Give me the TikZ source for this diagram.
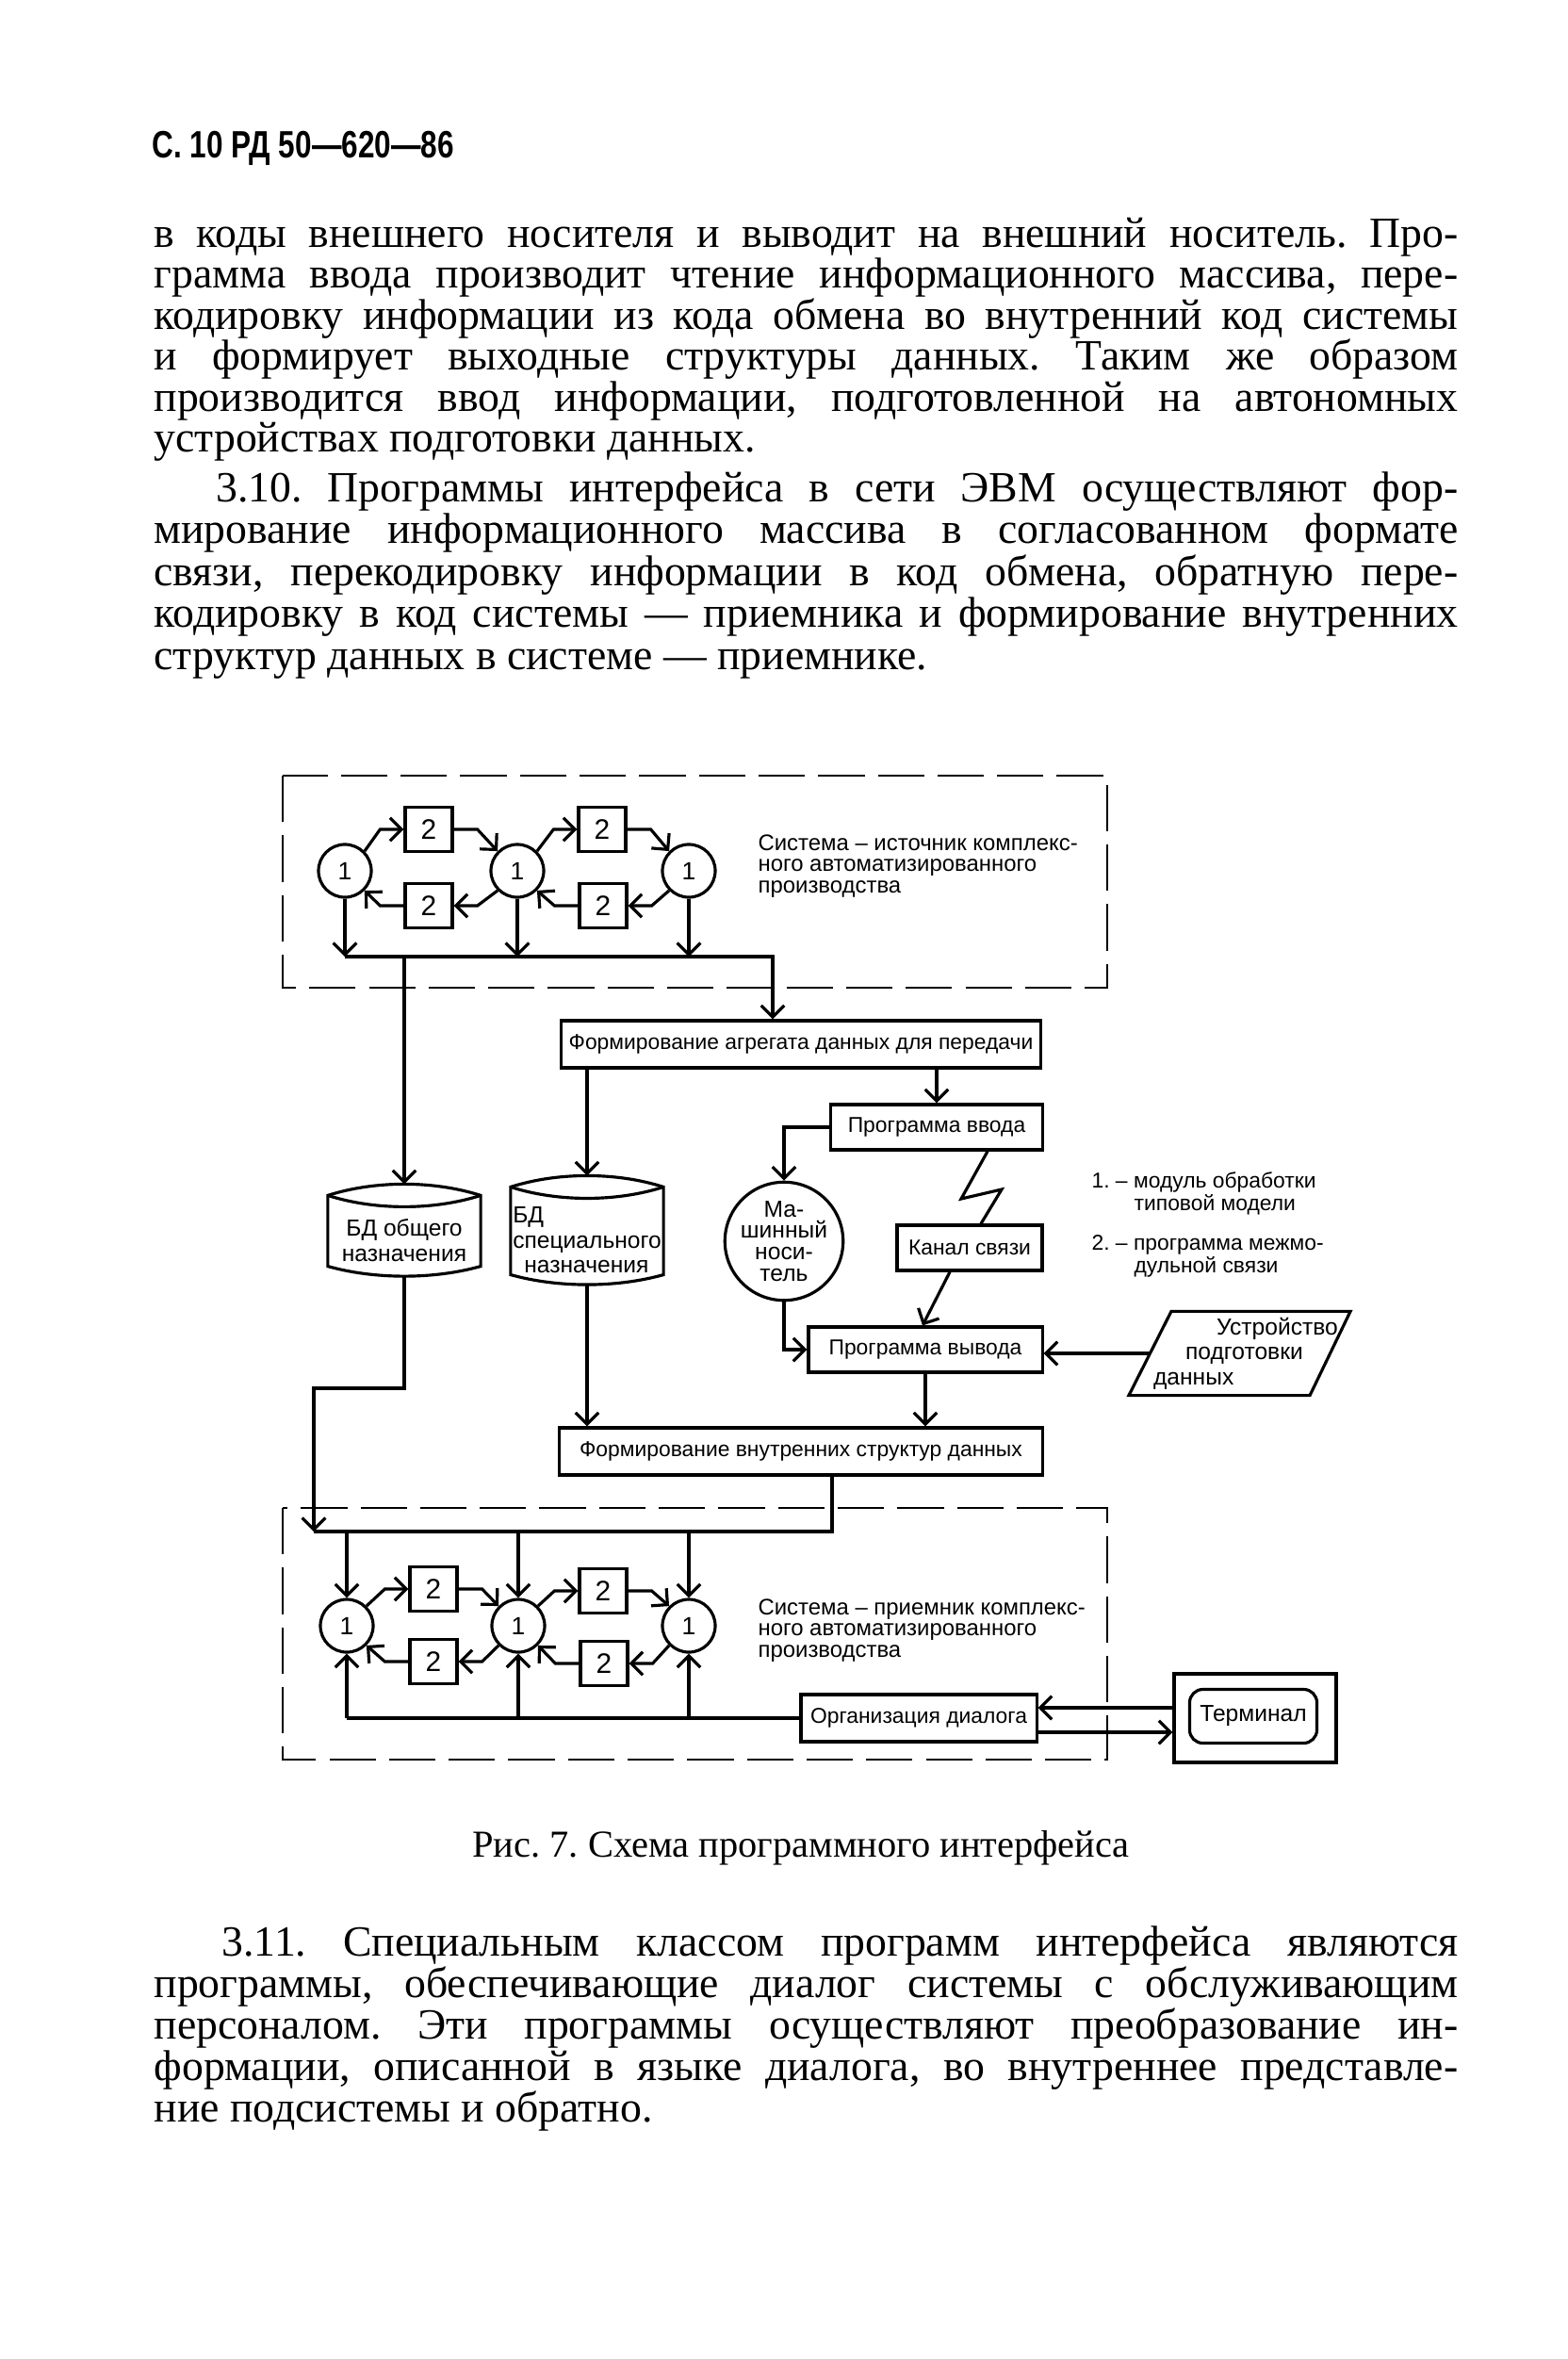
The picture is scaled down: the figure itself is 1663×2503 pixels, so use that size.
\documentclass[tikz,border=0pt]{standalone}
\usepackage{fontspec}
\setmainfont{Liberation Serif}
\setsansfont{Liberation Sans}
\usepackage{graphicx}
\usetikzlibrary{arrows.meta, shapes.geometric, positioning}

\newcommand{\fullline}[1]{\makebox[13.83cm][s]{#1}}

\begin{document}
\frenchspacing
\begin{tikzpicture}[
    x=0.01cm, y=-0.01cm,
    line width=0.9pt,
    txt/.style={anchor=base west, inner sep=0pt, font=\fontsize{13}{15}\selectfont},
    blk/.style={draw, rectangle, inner sep=1pt, font=\sffamily\fontsize{6.5}{7.5}\selectfont},
    modul/.style={draw, circle, minimum size=0.56cm, inner sep=0pt, font=\sffamily\fontsize{7.5}{8}\selectfont},
    mlink/.style={draw, rectangle, minimum width=0.5cm, minimum height=0.47cm, inner sep=0pt, font=\sffamily\fontsize{8.5}{9}\selectfont},
    dbtext/.style={minimum width=1.59cm, minimum height=0.52cm, inner sep=0pt, font=\sffamily\fontsize{7}{7.5}\selectfont},
    lbl/.style={anchor=west, inner sep=0pt, align=left, font=\sffamily\fontsize{6.8}{6.3}\selectfont},
    sysbox/.style={line width=0.8pt, dash pattern=on 14pt off 4pt},
    arr/.style={-{Straight Barb[length=3.5pt,width=7pt]}}
  ]
  \useasboundingbox (0,0) rectangle (1663,2503);

  % Page text
  \node[anchor=base west, inner sep=0pt, font=\sffamily\bfseries\fontsize{11.5}{13}\selectfont] (hdr) at (160,168) {\scalebox{0.78}[1]{С. 10 РД 50—620—86}};
  \node[txt] (pa1) at (162,262) {\fullline{в коды внешнего носителя и выводит на внешний носитель. Про-}};
  \node[txt] (pa2) at (162,305.5) {\fullline{грамма ввода производит чтение информационного массива, пере-}};
  \node[txt] (pa3) at (162,349) {\fullline{кодировку информации из кода обмена во внутренний код системы}};
  \node[txt] (pa4) at (162,392.5) {\fullline{и формирует выходные структуры данных. Таким же образом}};
  \node[txt] (pa5) at (162,436) {\fullline{производится ввод информации, подготовленной на автономных}};
  \node[txt] (pa6) at (162,479.5) {устройствах подготовки данных.};

  \node[txt] (pb1) at (162,532) {\fullline{\hspace*{0.66cm}3.10. Программы интерфейса в сети ЭВМ осуществляют фор-}};
  \node[txt] (pb2) at (162,576.5) {\fullline{мирование информационного массива в согласованном формате}};
  \node[txt] (pb3) at (162,621) {\fullline{связи, перекодировку информации в код обмена, обратную пере-}};
  \node[txt] (pb4) at (162,665.5) {\fullline{кодировку в код системы — приемника и формирование внутренних}};
  \node[txt] (pb5) at (162,710) {структур данных в системе — приемнике.};

  % Source system
  \draw[sysbox] (300,823) rectangle (1175,1048);
  \node[modul] (s1) at (366,924) {1};
  \node[modul] (s2) at (549,924) {1};
  \node[modul] (s3) at (731,924) {1};
  \node[mlink] (sa) at (455,880) {2};
  \node[mlink] (sb) at (455,961) {2};
  \node[mlink] (sc) at (639,880) {2};
  \node[mlink] (sd) at (640,961) {2};
  \draw[arr] (s1.45) -- ([xshift=-0.25cm]sa.west) -- (sa.west);
  \draw[arr] (sa.east) -- ([xshift=0.25cm]sa.east) -- (s2.135);
  \draw[arr] (s2.225) -- ([xshift=0.25cm]sb.east) -- (sb.east);
  \draw[arr] (sb.west) -- ([xshift=-0.25cm]sb.west) -- (s1.315);
  \draw[arr] (s2.45) -- ([xshift=-0.25cm]sc.west) -- (sc.west);
  \draw[arr] (sc.east) -- ([xshift=0.25cm]sc.east) -- (s3.135);
  \draw[arr] (s3.225) -- ([xshift=0.25cm]sd.east) -- (sd.east);
  \draw[arr] (sd.west) -- ([xshift=-0.25cm]sd.west) -- (s2.315);
  \node[lbl] (srcl) at (803,919) {Система -- источник комплекс-\\ного автоматизированного\\производства};

  % Bus out of the source
  \coordinate (sbus) at (366,1015);
  \coordinate (sbusr) at (820,1015);
  \draw[arr] (s1.south) -- (s1.south |- sbus);
  \draw[arr] (s2.south) -- (s2.south |- sbus);
  \draw[arr] (s3.south) -- (s3.south |- sbus);

  % Middle blocks
  \node[blk, minimum width=5.09cm, minimum height=0.5cm] (agr) at (850,1108) {Формирование агрегата данных для передачи};
  \node[blk, minimum width=2.25cm, minimum height=0.48cm] (vvod) at (994,1196) {Программа ввода};
  \node[blk, minimum width=1.54cm, minimum height=0.48cm] (kanal) at (1029,1324) {Канал связи};
  \node[blk, minimum width=2.48cm, minimum height=0.48cm] (vyvod) at (982,1432) {Программа вывода};
  \node[blk, minimum width=5.13cm, minimum height=0.5cm] (vnutr) at (850,1540) {Формирование внутренних структур данных};
  \node[draw, circle, minimum size=1.24cm, inner sep=0pt, align=center, font=\sffamily\fontsize{7}{6.5}\selectfont] (mn) at (832,1317) {Ма-\\шинный\\носи-\\тель};
  \node[minimum width=1.9cm, minimum height=0.86cm, inner sep=0pt, align=left, font=\sffamily\fontsize{7}{7.5}\selectfont] (ustr) at (1322,1436) {\hspace*{0.67cm}Устройство\\\hspace*{0.34cm}подготовки\\данных};
  \draw ([xshift=-0.79cm]ustr.north) -- ([xshift=1.11cm]ustr.north) -- ([xshift=0.68cm]ustr.south) -- ([xshift=-1.24cm]ustr.south) -- cycle;
  \node[lbl, font=\sffamily\fontsize{6.5}{6.8}\selectfont] (leg1) at (1157,1266) {1. -- модуль обработки\\\hspace*{0.45cm}типовой модели};
  \node[lbl, font=\sffamily\fontsize{6.5}{6.8}\selectfont] (leg2) at (1157,1333) {2. -- программа межмо-\\\hspace*{0.45cm}дульной связи};

  % Data bases
  \node[dbtext, align=center] (dbg) at (429,1316) {БД общего\\назначения};
  \node[dbtext, align=left] (dbs) at (623,1316) {БД\\специального\\\hspace*{0.12cm}назначения};
  \draw ([yshift=0.2cm]dbg.north west) .. controls ([xshift=0.5cm,yshift=0.36cm]dbg.north west) and ([xshift=-0.5cm,yshift=0.36cm]dbg.north east) .. ([yshift=0.2cm]dbg.north east) -- (dbg.south east) .. controls ([xshift=-0.5cm,yshift=-0.14cm]dbg.south east) and ([xshift=0.5cm,yshift=-0.14cm]dbg.south west) .. (dbg.south west) -- cycle;
  \draw ([yshift=0.2cm]dbg.north west) .. controls ([xshift=0.5cm,yshift=0.04cm]dbg.north west) and ([xshift=-0.5cm,yshift=0.04cm]dbg.north east) .. ([yshift=0.2cm]dbg.north east);
  \draw ([yshift=0.2cm]dbs.north west) .. controls ([xshift=0.5cm,yshift=0.36cm]dbs.north west) and ([xshift=-0.5cm,yshift=0.36cm]dbs.north east) .. ([yshift=0.2cm]dbs.north east) -- (dbs.south east) .. controls ([xshift=-0.5cm,yshift=-0.14cm]dbs.south east) and ([xshift=0.5cm,yshift=-0.14cm]dbs.south west) .. (dbs.south west) -- cycle;
  \draw ([yshift=0.2cm]dbs.north west) .. controls ([xshift=0.5cm,yshift=0.04cm]dbs.north west) and ([xshift=-0.5cm,yshift=0.04cm]dbs.north east) .. ([yshift=0.2cm]dbs.north east);

  % Flow in the middle
  \draw[arr] (sbus) -- (sbusr) -- (sbusr |- agr.north);
  \draw[arr] (sbus -| dbg.north) -- ([yshift=0.32cm]dbg.north);
  \draw[arr] (agr.south -| dbs.north) -- ([yshift=0.32cm]dbs.north);
  \draw[arr] (vvod.north |- agr.south) -- (vvod.north);
  \draw[arr] (vvod.west) -| (mn.north);
  \draw ([xshift=0.54cm]vvod.south) -- (1020,1272) -- (1063,1262) -- ([xshift=0.12cm]kanal.north);
  \draw[arr] ([xshift=-0.21cm]kanal.south) -- ([xshift=-0.03cm]vyvod.north);
  \draw[arr] (mn.south) |- (vyvod.west);
  \draw[arr] ([xshift=-1.01cm]ustr.center) -- (ustr.center -| vyvod.east);
  \draw[arr] (vyvod.south) -- (vyvod.south |- vnutr.north);
  \draw[arr] ([yshift=-0.1cm]dbs.south) -- (dbs.south |- vnutr.north);

  % Receiving system
  \draw[sysbox] (300,1600) rectangle (1175,1867);
  \node[modul] (r1) at (368,1725) {1};
  \node[modul] (r2) at (550,1725) {1};
  \node[modul] (r3) at (731,1725) {1};
  \node[mlink] (ra) at (460,1686) {2};
  \node[mlink] (rb) at (460,1763) {2};
  \node[mlink] (rc) at (640,1688) {2};
  \node[mlink] (rd) at (641,1765) {2};
  \draw[arr] (r1.45) -- ([xshift=-0.25cm]ra.west) -- (ra.west);
  \draw[arr] (ra.east) -- ([xshift=0.25cm]ra.east) -- (r2.135);
  \draw[arr] (r2.225) -- ([xshift=0.25cm]rb.east) -- (rb.east);
  \draw[arr] (rb.west) -- ([xshift=-0.25cm]rb.west) -- (r1.315);
  \draw[arr] (r2.45) -- ([xshift=-0.25cm]rc.west) -- (rc.west);
  \draw[arr] (rc.east) -- ([xshift=0.25cm]rc.east) -- (r3.135);
  \draw[arr] (r3.225) -- ([xshift=0.25cm]rd.east) -- (rd.east);
  \draw[arr] (rd.west) -- ([xshift=-0.25cm]rd.west) -- (r2.315);
  \node[lbl] (rcvl) at (803,1730) {Система -- приемник комплекс-\\ного автоматизированного\\производства};

  % Bus into the receiver
  \coordinate (rbus) at (333,1625);
  \coordinate (rbusr) at (883,1625);
  \coordinate (dbgl) at (429,1473);
  \draw[arr] ([yshift=-0.1cm]dbg.south) -- (dbgl) -| (rbus);
  \draw (rbusr |- vnutr.south) -- (rbusr) -- (rbus);
  \draw[arr] (r1.north |- rbus) -- (r1.north);
  \draw[arr] (r2.north |- rbus) -- (r2.north);
  \draw[arr] (r3.north |- rbus) -- (r3.north);

  % Dialog
  \node[blk, minimum width=2.5cm, minimum height=0.5cm] (org) at (975,1823) {Организация диалога};
  \node[draw, rectangle, minimum width=1.72cm, minimum height=0.94cm] (term) at (1332,1823) {};
  \node[blk, rounded corners=4pt, minimum width=1.35cm, minimum height=0.57cm, font=\sffamily\fontsize{7}{8}\selectfont] (termin) at (1330,1821) {Терминал};
  \draw (r1.south |- org.west) -- (org.west);
  \draw[arr] (r1.south |- org.west) -- (r1.south);
  \draw[arr] (r2.south |- org.west) -- (r2.south);
  \draw[arr] (r3.south |- org.west) -- (r3.south);
  \draw[arr] ([yshift=0.11cm]term.west) -- ([yshift=0.11cm]org.east);
  \draw[arr] ([yshift=-0.15cm]org.east) -- ([yshift=-0.15cm]term.west);

  \node[anchor=base, inner sep=0pt, font=\fontsize{11.5}{13}\selectfont] (cap) at (850,1970) {Рис. 7. Схема программного интерфейса};

  \node[txt] (pc1) at (162,2075) {\fullline{\hspace*{0.72cm}3.11. Специальным классом программ интерфейса являются}};
  \node[txt] (pc2) at (162,2119) {\fullline{программы, обеспечивающие диалог системы с обслуживающим}};
  \node[txt] (pc3) at (162,2163) {\fullline{персоналом. Эти программы осуществляют преобразование ин-}};
  \node[txt] (pc4) at (162,2207) {\fullline{формации, описанной в языке диалога, во внутреннее представле-}};
  \node[txt] (pc5) at (162,2251) {ние подсистемы и обратно.};
\end{tikzpicture}
\end{document}
